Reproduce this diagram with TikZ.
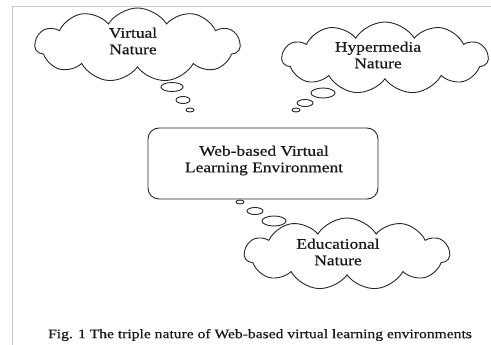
\documentclass[tikz,border=0pt]{standalone}
\usepackage{fontspec}
\setmainfont{Liberation Serif}[FakeStretch=1.2, FakeBold=0.6]
\usetikzlibrary{shapes.symbols,shapes.geometric}
\begin{document}
\begin{tikzpicture}[x=1pt,y=-1pt,
  thought/.style={cloud, draw=black!85, line width=0.9pt, cloud puffs=11,
    cloud puff arc=115, aspect=2.8, inner sep=0pt},
  bubble/.style={ellipse, draw=black!85, line width=0.9pt, inner sep=0pt},
  label/.style={font=\fontsize{14.5}{16.5}\selectfont, align=center, text=black!90},
  framel/.style={draw=black!22, line width=0.8pt}]
\useasboundingbox (0,0) rectangle (491,345);
% page frame
\coordinate (ftl) at (12,6);
\coordinate (ftr) at (491,6);
\coordinate (fbl) at (12,345);
\draw[framel] (fbl) -- (ftl) -- (ftr);

% central box
\node[draw=black!85, line width=0.9pt, rounded corners=11pt,
      minimum width=230pt, minimum height=71pt] (box) at (263,163.5) {};
\node[label] (boxtxt) at (264,160.5) {Web-based Virtual\\Learning Environment};

% clouds
\node[thought, minimum width=205pt, minimum height=74pt] (c1) at (137.5,45) {};
\node[label] (t1) at (133,41) {Virtual\\Nature};
\node[thought, minimum width=206pt, minimum height=72pt] (c2) at (385,58) {};
\node[label] (t2) at (378,55) {Hypermedia\\Nature};
\node[thought, minimum width=205pt, minimum height=72pt] (c3) at (347,254) {};
\node[label] (t3) at (338,252) {Educational\\Nature};

% thought bubbles
\node[bubble, minimum width=22pt, minimum height=9pt] (b11) at (172,87) {};
\node[bubble, minimum width=14pt, minimum height=7pt] (b12) at (183,100) {};
\node[bubble, minimum width=8pt, minimum height=4pt] (b13) at (190,110) {};

\node[bubble, minimum width=24pt, minimum height=10pt] (b21) at (323,93) {};
\node[bubble, minimum width=16pt, minimum height=7pt] (b22) at (305,103) {};
\node[bubble, minimum width=8pt, minimum height=4pt] (b23) at (296,110) {};

\node[bubble, minimum width=8pt, minimum height=4pt] (b31) at (240,202) {};
\node[bubble, minimum width=16pt, minimum height=7pt] (b32) at (255,211) {};
\node[bubble, minimum width=24pt, minimum height=10pt] (b33) at (274,221) {};

% caption
\node[font=\fontsize{13}{15}\selectfont, text=black!90] (cap) at (260,335)
  {Fig. 1 The triple nature of Web-based virtual learning environments};
\end{tikzpicture}
\end{document}
